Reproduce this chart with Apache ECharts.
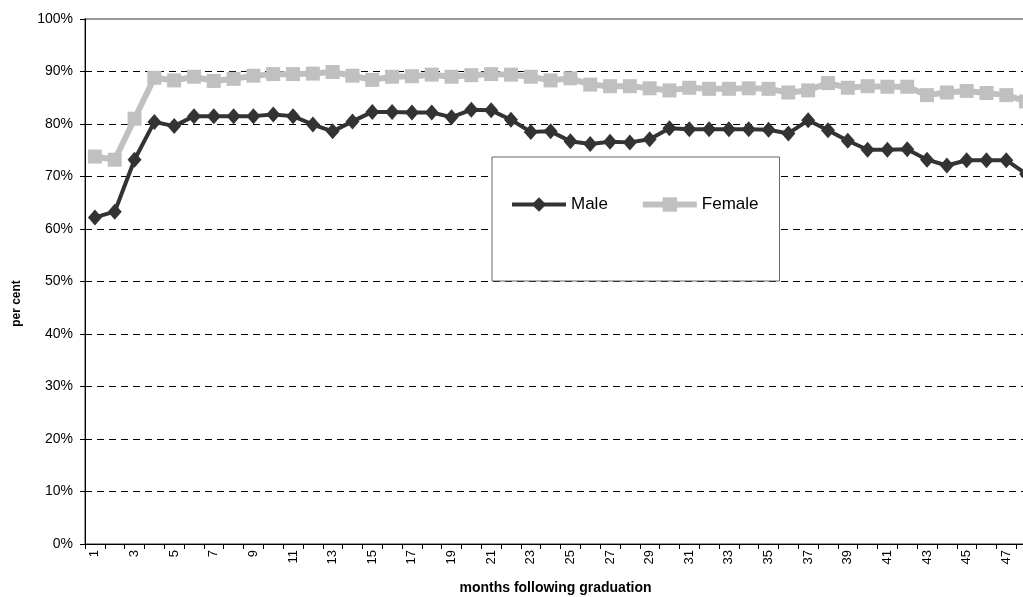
<!DOCTYPE html>
<html>
<head>
<meta charset="utf-8">
<title>Employment rate by months following graduation</title>
<script src="https://cdn.jsdelivr.net/npm/echarts@6/dist/echarts.min.js"></script>
<style>
  html, body { margin: 0; padding: 0; background: #ffffff; overflow: hidden; }
  #chart { width: 1045px; height: 597px; }
</style>
</head>
<body>
<div id="chart"></div>
<script>
// months following graduation (1..48)
const months = [];
for (let m = 1; m <= 48; m++) months.push(String(m));

// share in work, per cent
const male = [
  62.2, 63.3, 73.2, 80.4, 79.6, 81.5, 81.5, 81.5, 81.5, 81.8,
  81.5, 79.9, 78.6, 80.5, 82.3, 82.3, 82.2, 82.2, 81.3, 82.7,
  82.6, 80.8, 78.5, 78.6, 76.7, 76.2, 76.6, 76.5, 77.1, 79.2,
  79.0, 79.0, 79.0, 79.0, 78.9, 78.2, 80.7, 78.8, 76.8, 75.1,
  75.1, 75.2, 73.2, 72.1, 73.1, 73.1, 73.1, 70.5
];
const female = [
  73.8, 73.2, 81.0, 88.8, 88.3, 89.0, 88.2, 88.6, 89.2, 89.5,
  89.5, 89.6, 89.9, 89.2, 88.4, 89.0, 89.1, 89.4, 89.0, 89.3,
  89.5, 89.4, 89.0, 88.3, 88.7, 87.5, 87.2, 87.2, 86.8, 86.4,
  86.9, 86.7, 86.7, 86.8, 86.7, 86.0, 86.4, 87.8, 86.9, 87.2,
  87.1, 87.1, 85.5, 86.0, 86.3, 85.9, 85.5, 84.3
];

const FONT = '"Liberation Sans", Arial, sans-serif';
const MALE_COLOR = '#333333';
const FEMALE_COLOR = '#c0c0c0';

const chart = echarts.init(document.getElementById('chart'), null, { renderer: 'canvas' });

chart.setOption({
  animation: false,
  backgroundColor: '#ffffff',
  textStyle: { fontFamily: FONT, color: '#000' },
  grid: {
    left: 85, top: 19, width: 951, height: 525,
    outerBoundsMode: 'none',
    containLabel: false,
    show: true, borderColor: '#999999', borderWidth: 2, backgroundColor: 'transparent'
  },
  legend: {
    left: 492, top: 157,
    padding: [39, 21, 68, 18],
    backgroundColor: '#ffffff',
    borderColor: '#666666', borderWidth: 1,
    itemWidth: 54, itemHeight: 18, itemGap: 32,
    textStyle: { fontFamily: FONT, fontSize: 17, color: '#000' },
    data: [
      { name: 'Male', lineStyle: { width: 4, color: MALE_COLOR } },
      { name: 'Female', lineStyle: { width: 6, color: FEMALE_COLOR } }
    ]
  },
  xAxis: {
    type: 'category',
    data: months,
    boundaryGap: true,
    name: 'months following graduation',
    nameLocation: 'middle',
    nameGap: 37,
    nameTextStyle: {
      fontFamily: FONT, fontSize: 14, fontWeight: 'bold', color: '#000',
      padding: [0, 10, 0, 0]
    },
    axisLine: { lineStyle: { color: '#000', width: 1 } },
    axisTick: { show: true, length: 5, interval: 0, lineStyle: { color: '#000' } },
    axisLabel: { rotate: 90, interval: 1, fontSize: 13, color: '#000', margin: 6, fontFamily: FONT },
    splitLine: { show: false }
  },
  yAxis: {
    type: 'value',
    min: 0, max: 100, interval: 10,
    name: 'per cent',
    nameLocation: 'middle',
    nameGap: 62,
    nameRotate: 90,
    nameTextStyle: {
      fontFamily: FONT, fontSize: 12, fontWeight: 'bold', color: '#000',
      padding: [0, 44, 0, 0]
    },
    axisLine: { show: true, lineStyle: { color: '#000', width: 1 } },
    axisTick: { show: true, length: 5, lineStyle: { color: '#000' } },
    axisLabel: { formatter: '{value}%', fontSize: 14, color: '#000', margin: 12, fontFamily: FONT },
    splitLine: {
      show: true, showMinLine: false, showMaxLine: false,
      lineStyle: { color: '#000', width: 1, type: [7, 5] }
    }
  },
  series: [
    {
      name: 'Female',
      type: 'line',
      data: female,
      symbol: 'rect',
      symbolSize: 14,
      showAllSymbol: true,
      itemStyle: { color: FEMALE_COLOR },
      lineStyle: { color: FEMALE_COLOR, width: 6 },
      z: 2
    },
    {
      name: 'Male',
      type: 'line',
      data: male,
      symbol: 'diamond',
      symbolSize: [14, 16],
      showAllSymbol: true,
      itemStyle: { color: MALE_COLOR },
      lineStyle: { color: MALE_COLOR, width: 4 },
      z: 3
    }
  ]
});
</script>
</body>
</html>
